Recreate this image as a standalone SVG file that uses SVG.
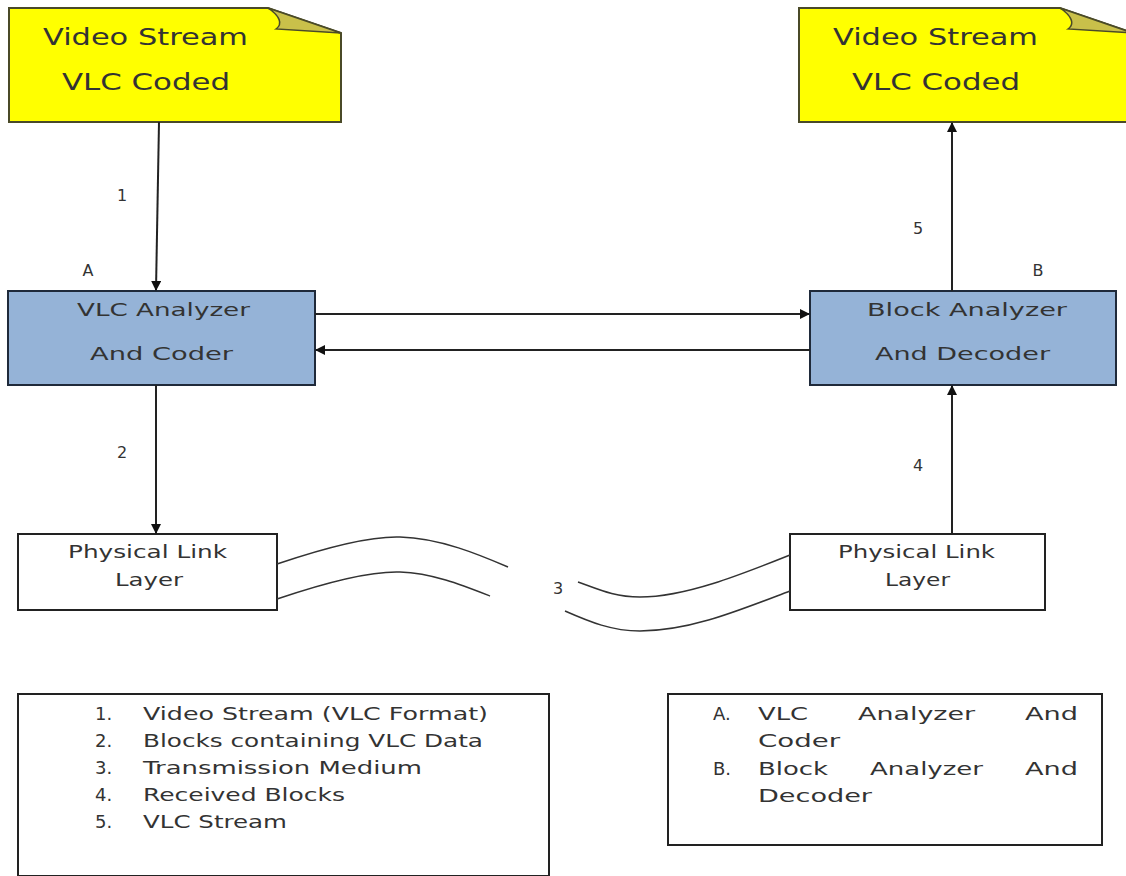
<svg xmlns="http://www.w3.org/2000/svg" width="1126" height="876" viewBox="0 0 1126 876">
<style>
text{font-family:"DejaVu Sans","Liberation Sans",sans-serif;fill:#333;}
.nt{font-size:23px;}
.bt{font-size:18px;}
.lt{font-size:18px;}
.sm{font-size:16px;}
.note{fill:#ffff00;stroke:#4a4a28;stroke-width:2;}
.curl{fill:#c9c04a;stroke:#4a4a28;stroke-width:1.5;}
.blue{fill:#95b3d7;stroke:#1f2a3a;stroke-width:2;}
.box{fill:#fff;stroke:#222;stroke-width:2;}
.conn{stroke:#222;stroke-width:2;fill:none;}
.wave{stroke:#333;stroke-width:1.5;fill:none;}
</style>
<defs>
<marker id="ah" markerWidth="10" markerHeight="10" refX="9" refY="5" orient="auto" markerUnits="userSpaceOnUse">
<path d="M0,0 L10,5 L0,10 Z" fill="#111"/>
</marker>
</defs>
<rect width="1126" height="876" fill="#fff"/>

<g id="note-left">
<path class="note" d="M9,8 L268,8 L341,33 L341,122 L9,122 Z"/>
<path class="curl" d="M268,8 C280,16 283,24 276,29 L341,33 Z"/>
<text class="nt" x="43" y="45" textLength="205" lengthAdjust="spacingAndGlyphs">Video Stream</text>
<text class="nt" x="62" y="90" textLength="168" lengthAdjust="spacingAndGlyphs">VLC Coded</text>
</g>

<g id="note-right">
<path class="note" d="M799,8 L1060,8 L1133,33 L1133,122 L799,122 Z"/>
<path class="curl" d="M1060,8 C1072,16 1075,24 1068,29 L1133,33 Z"/>
<text class="nt" x="833" y="45" textLength="205" lengthAdjust="spacingAndGlyphs">Video Stream</text>
<text class="nt" x="852" y="90" textLength="168" lengthAdjust="spacingAndGlyphs">VLC Coded</text>
</g>

<g id="vlc-analyzer">
<rect class="blue" x="8" y="291" width="307" height="94"/>
<text class="bt" x="77" y="316" textLength="173" lengthAdjust="spacingAndGlyphs">VLC Analyzer</text>
<text class="bt" x="90" y="360" textLength="143" lengthAdjust="spacingAndGlyphs">And Coder</text>
</g>

<g id="block-analyzer">
<rect class="blue" x="810" y="291" width="306" height="94"/>
<text class="bt" x="867" y="316" textLength="200" lengthAdjust="spacingAndGlyphs">Block Analyzer</text>
<text class="bt" x="875" y="360" textLength="175" lengthAdjust="spacingAndGlyphs">And Decoder</text>
</g>

<g id="phy-left">
<rect class="box" x="18" y="534" width="259" height="76"/>
<text class="bt" x="68" y="558" textLength="159" lengthAdjust="spacingAndGlyphs">Physical Link</text>
<text class="bt" x="115" y="586" textLength="68" lengthAdjust="spacingAndGlyphs">Layer</text>
</g>

<g id="phy-right">
<rect class="box" x="790" y="534" width="255" height="76"/>
<text class="bt" x="838" y="558" textLength="157" lengthAdjust="spacingAndGlyphs">Physical Link</text>
<text class="bt" x="885" y="586" textLength="65" lengthAdjust="spacingAndGlyphs">Layer</text>
</g>

<g id="connectors">
<line class="conn" x1="159" y1="122" x2="156" y2="290" marker-end="url(#ah)"/>
<line class="conn" x1="156" y1="385" x2="156" y2="533" marker-end="url(#ah)"/>
<line class="conn" x1="315" y1="314" x2="809" y2="314" marker-end="url(#ah)"/>
<line class="conn" x1="810" y1="350" x2="316" y2="350" marker-end="url(#ah)"/>
<line class="conn" x1="952" y1="291" x2="952" y2="123" marker-end="url(#ah)"/>
<line class="conn" x1="952" y1="534" x2="952" y2="386" marker-end="url(#ah)"/>
<path class="wave" d="M277,564 C330,546 370,536 400,537 C440,538 480,555 508,567"/>
<path class="wave" d="M578,582 C600,590 615,597 640,597 C685,597 740,575 790,555"/>
<path class="wave" d="M277,599 C330,581 370,571 400,572 C432,573 462,585 490,596"/>
<path class="wave" d="M565,611 C590,622 612,631 640,631 C690,631 740,610 790,591"/>
</g>

<g id="labels">
<text class="sm" x="122" y="201" text-anchor="middle">1</text>
<text class="sm" x="88" y="276" text-anchor="middle">A</text>
<text class="sm" x="122" y="458" text-anchor="middle">2</text>
<text class="sm" x="558" y="594" text-anchor="middle">3</text>
<text class="sm" x="918" y="471" text-anchor="middle">4</text>
<text class="sm" x="918" y="234" text-anchor="middle">5</text>
<text class="sm" x="1038" y="276" text-anchor="middle">B</text>
</g>

<g id="legend-numbers">
<rect class="box" x="18" y="694" width="531" height="182"/>
<text class="lt" x="95" y="720">1.</text>
<text class="lt" x="143" y="720" textLength="345" lengthAdjust="spacingAndGlyphs">Video Stream (VLC Format)</text>
<text class="lt" x="95" y="747">2.</text>
<text class="lt" x="143" y="747" textLength="340" lengthAdjust="spacingAndGlyphs">Blocks containing VLC Data</text>
<text class="lt" x="95" y="774">3.</text>
<text class="lt" x="143" y="774" textLength="279" lengthAdjust="spacingAndGlyphs">Transmission Medium</text>
<text class="lt" x="95" y="801">4.</text>
<text class="lt" x="143" y="801" textLength="202" lengthAdjust="spacingAndGlyphs">Received Blocks</text>
<text class="lt" x="95" y="828">5.</text>
<text class="lt" x="143" y="828" textLength="144" lengthAdjust="spacingAndGlyphs">VLC Stream</text>
</g>

<g id="legend-letters">
<rect class="box" x="668" y="694" width="434" height="151"/>
<text class="lt" x="713" y="720">A.</text>
<text class="lt" x="758" y="720" textLength="50" lengthAdjust="spacingAndGlyphs">VLC</text>
<text class="lt" x="858" y="720" textLength="117" lengthAdjust="spacingAndGlyphs">Analyzer</text>
<text class="lt" x="1025" y="720" textLength="53" lengthAdjust="spacingAndGlyphs">And</text>
<text class="lt" x="758" y="747" textLength="82" lengthAdjust="spacingAndGlyphs">Coder</text>
<text class="lt" x="713" y="775">B.</text>
<text class="lt" x="758" y="775" textLength="70" lengthAdjust="spacingAndGlyphs">Block</text>
<text class="lt" x="870" y="775" textLength="113" lengthAdjust="spacingAndGlyphs">Analyzer</text>
<text class="lt" x="1025" y="775" textLength="53" lengthAdjust="spacingAndGlyphs">And</text>
<text class="lt" x="758" y="802" textLength="114" lengthAdjust="spacingAndGlyphs">Decoder</text>
</g>
</svg>
